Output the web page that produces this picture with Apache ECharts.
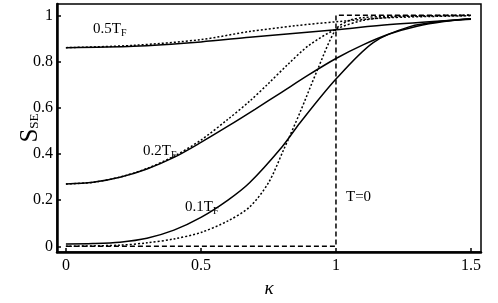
<!DOCTYPE html>
<html><head><meta charset="utf-8">
<script src="https://cdn.jsdelivr.net/npm/echarts@6/dist/echarts.min.js"></script>
<style>html,body{margin:0;padding:0;background:#fff}#c{width:498px;height:303px}</style>
</head><body><div id="c"></div>
<script>
// x ticks and y ticks
var xTicks = [0, 0.5, 1, 1.5];
var yTicks = [0, 0.2, 0.4, 0.6, 0.8, 1];

// T = 0.5 T_F
var k05s = [0, 0.25, 0.5, 0.68, 1.0, 1.2, 1.5];
var v05s = [0.86, 0.866, 0.885, 0.905, 0.938, 0.96, 0.983];
var k05d = [0, 0.25, 0.5, 0.68, 0.85, 1.0, 1.2, 1.5];
var v05d = [0.86, 0.87, 0.895, 0.93, 0.955, 0.972, 0.99, 0.998];

// T = 0.2 T_F
var k02s = [0, 0.1, 0.2, 0.3, 0.4, 0.5, 0.6, 0.7, 0.8, 0.9, 1.0, 1.1, 1.2, 1.3, 1.4, 1.5];
var v02s = [0.27, 0.277, 0.299, 0.335, 0.385, 0.45, 0.52, 0.593, 0.668, 0.743, 0.813, 0.872, 0.92, 0.953, 0.973, 0.985];
var k02d = [0, 0.1, 0.2, 0.3, 0.4, 0.5, 0.6, 0.68, 0.75, 0.824, 0.9, 1.0, 1.1, 1.2, 1.3, 1.5];
var v02d = [0.27, 0.277, 0.3, 0.337, 0.39, 0.46, 0.55, 0.628, 0.705, 0.79, 0.87, 0.94, 0.978, 0.992, 0.997, 1.0];

// T = 0.1 T_F
var k01s = [0, 0.1, 0.2, 0.3, 0.4, 0.5, 0.6, 0.68, 0.8, 0.867, 1.0, 1.138, 1.274, 1.4, 1.5];
var v01s = [0.01, 0.012, 0.018, 0.035, 0.07, 0.125, 0.2, 0.275, 0.43, 0.535, 0.724, 0.882, 0.951, 0.975, 0.985];
var k01d = [0, 0.2, 0.3, 0.4, 0.5, 0.6, 0.68, 0.75, 0.805, 0.867, 0.93, 1.0, 1.05, 1.1, 1.2, 1.5];
var v01d = [0.0, 0.005, 0.015, 0.032, 0.06, 0.11, 0.17, 0.275, 0.415, 0.58, 0.76, 0.94, 0.978, 0.99, 0.996, 1.0];

// T = 0
var k00 = [0, 1, 1, 1.5];
var v00 = [0, 0, 1, 1];

function pairs(k, v) { return k.map(function (x, i) { return [x, v[i]]; }); }

var serif = 'Liberation Serif';
function line(k, v, type, smooth) {
  return {
    type: 'line', data: pairs(k, v), showSymbol: false, symbol: 'none',
    smooth: smooth ? 0.3 : false,
    lineStyle: { color: '#000', width: 1.5, type: type },
    silent: true, animation: false
  };
}

var chart = echarts.init(document.getElementById('c'), null, { renderer: 'canvas' });
chart.setOption({
  animation: false,
  backgroundColor: '#fff',
  grid: { left: 57, right: 17, top: 4, bottom: 38, show: true, borderColor: '#000', borderWidth: 1.5, backgroundColor: 'transparent' },
  xAxis: {
    type: 'value', min: -0.033, max: 1.537,
    axisLine: { show: true, onZero: false, lineStyle: { color: '#000', width: 2.5 } },
    axisTick: { show: true, inside: true, length: 4, customValues: xTicks, lineStyle: { color: '#000', width: 1.5 } },
    axisLabel: { customValues: xTicks, color: '#000', fontFamily: serif, fontSize: 16, margin: 6 },
    splitLine: { show: false },
    name: 'κ', nameLocation: 'middle', nameGap: 22,
    nameTextStyle: { fontFamily: serif, fontStyle: 'italic', fontSize: 19, color: '#000' }
  },
  yAxis: {
    type: 'value', min: -0.025, max: 1.049,
    axisLine: { show: true, onZero: false, lineStyle: { color: '#000', width: 2.5 } },
    axisTick: { show: true, inside: true, length: 4, customValues: yTicks, lineStyle: { color: '#000', width: 1.5 } },
    axisLabel: { customValues: yTicks, color: '#000', fontFamily: serif, fontSize: 16, margin: 4 },
    splitLine: { show: false }
  },
  graphic: [
    { type: 'text', x: 30, y: 128, rotation: Math.PI / 2, style: {
        text: '{s|S}{sub|SE}', fill: '#000', align: 'center', verticalAlign: 'middle',
        rich: { s: { fontFamily: serif, fontSize: 25, fill: '#000' },
                sub: { fontFamily: serif, fontSize: 13, fill: '#000', padding: [9, 0, 0, 0] } } } },
    { type: 'text', x: 93, y: 38, style: { text: '{a|0.5T}{b|F}', fill: '#000', verticalAlign: 'bottom',
        rich: { a: { fontFamily: serif, fontSize: 15, fill: '#000' }, b: { fontFamily: serif, fontSize: 10, fill: '#000', padding: [8, 0, 0, 0] } } } },
    { type: 'text', x: 143, y: 160, style: { text: '{a|0.2T}{b|F}', fill: '#000', verticalAlign: 'bottom',
        rich: { a: { fontFamily: serif, fontSize: 15, fill: '#000' }, b: { fontFamily: serif, fontSize: 10, fill: '#000', padding: [8, 0, 0, 0] } } } },
    { type: 'text', x: 185, y: 216, style: { text: '{a|0.1T}{b|F}', fill: '#000', verticalAlign: 'bottom',
        rich: { a: { fontFamily: serif, fontSize: 15, fill: '#000' }, b: { fontFamily: serif, fontSize: 10, fill: '#000', padding: [8, 0, 0, 0] } } } },
    { type: 'text', x: 346, y: 205, style: { text: 'T=0', fill: '#000', verticalAlign: 'bottom', fontFamily: serif, fontSize: 15 } }
  ],
  series: [
    line(k00, v00, [5, 3], false),
    line(k05d, v05d, [2, 2], true),
    line(k02d, v02d, [2, 2], true),
    line(k01d, v01d, [2, 2], true),
    line(k05s, v05s, 'solid', true),
    line(k02s, v02s, 'solid', true),
    line(k01s, v01s, 'solid', true)
  ]
});
</script></body></html>
